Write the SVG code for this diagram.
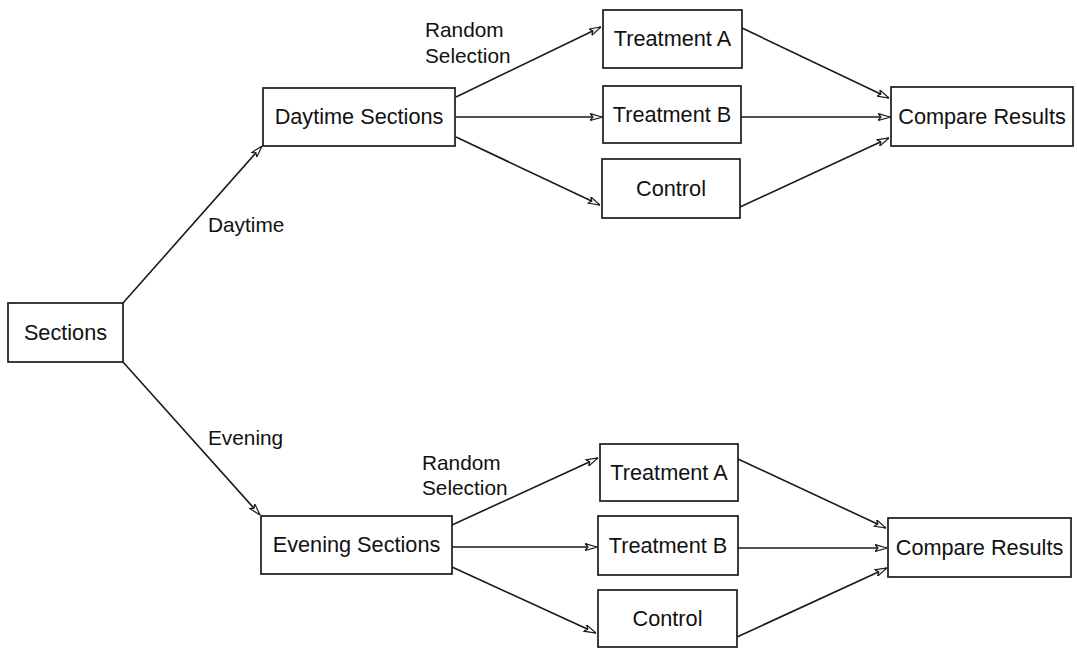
<svg xmlns="http://www.w3.org/2000/svg" width="1077" height="650" viewBox="0 0 1077 650">
<style>
.box{fill:#fff;stroke:#1a1a1a;stroke-width:1.7}
.t{font-family:"Liberation Sans",Arial,sans-serif;font-size:21.7px;fill:#111;text-anchor:middle}
.l{font-family:"Liberation Sans",Arial,sans-serif;font-size:20.8px;fill:#111}
.c{stroke:#1a1a1a;stroke-width:1.6;fill:none;marker-end:url(#ah)}
</style>
<defs>
<marker id="ah" viewBox="0 0 12 8" refX="12" refY="4" markerWidth="12" markerHeight="8" markerUnits="userSpaceOnUse" orient="auto">
<path d="M0,0.5 L12,4 L0,7.5 L3,4 Z" fill="#fff" stroke="#1a1a1a" stroke-width="1.2"/>
</marker>
</defs>
<rect width="1077" height="650" fill="#fff"/>
<g id="connectors">
<line class="c" x1="123" y1="303" x2="262" y2="146"/>
<line class="c" x1="123" y1="362" x2="260" y2="515"/>
<line class="c" x1="456" y1="97" x2="601" y2="27"/>
<line class="c" x1="456" y1="117" x2="602" y2="117"/>
<line class="c" x1="456" y1="137" x2="600" y2="205"/>
<line class="c" x1="742" y1="28" x2="889" y2="98"/>
<line class="c" x1="741" y1="117" x2="890" y2="117"/>
<line class="c" x1="740" y1="207" x2="889" y2="138"/>
<line class="c" x1="452" y1="525" x2="598" y2="458"/>
<line class="c" x1="452" y1="547" x2="597" y2="547"/>
<line class="c" x1="452" y1="567" x2="596" y2="633"/>
<line class="c" x1="738" y1="459" x2="886" y2="528"/>
<line class="c" x1="738" y1="548" x2="887" y2="548"/>
<line class="c" x1="737" y1="637" x2="887" y2="568"/>
</g>
<g id="labels">
<text class="l" x="208" y="232">Daytime</text>
<text class="l" x="208" y="445">Evening</text>
<text class="l" x="425" y="37">Random</text>
<text class="l" x="425" y="63">Selection</text>
<text class="l" x="422" y="470">Random</text>
<text class="l" x="422" y="495">Selection</text>
</g>
<g id="sections"><rect class="box" x="8" y="303" width="115" height="59"/><text class="t" x="65.5" y="340">Sections</text></g>
<g id="daytime-sections"><rect class="box" x="263" y="88" width="192" height="58"/><text class="t" x="359" y="124">Daytime Sections</text></g>
<g id="day-treatment-a"><rect class="box" x="603" y="10" width="139" height="58"/><text class="t" x="672.5" y="46">Treatment A</text></g>
<g id="day-treatment-b"><rect class="box" x="603" y="86" width="138" height="57"/><text class="t" x="672" y="122">Treatment B</text></g>
<g id="day-control"><rect class="box" x="602" y="159" width="138" height="59"/><text class="t" x="671" y="196">Control</text></g>
<g id="day-compare"><rect class="box" x="891" y="87" width="182" height="59"/><text class="t" x="982" y="124">Compare Results</text></g>
<g id="evening-sections"><rect class="box" x="261" y="516" width="191" height="58"/><text class="t" x="356.5" y="552">Evening Sections</text></g>
<g id="eve-treatment-a"><rect class="box" x="600" y="444" width="138" height="57"/><text class="t" x="669" y="480">Treatment A</text></g>
<g id="eve-treatment-b"><rect class="box" x="598" y="516" width="140" height="59"/><text class="t" x="668" y="553">Treatment B</text></g>
<g id="eve-control"><rect class="box" x="598" y="590" width="139" height="57"/><text class="t" x="667.5" y="626">Control</text></g>
<g id="eve-compare"><rect class="box" x="888" y="518" width="183" height="59"/><text class="t" x="979.5" y="555">Compare Results</text></g>
</svg>
